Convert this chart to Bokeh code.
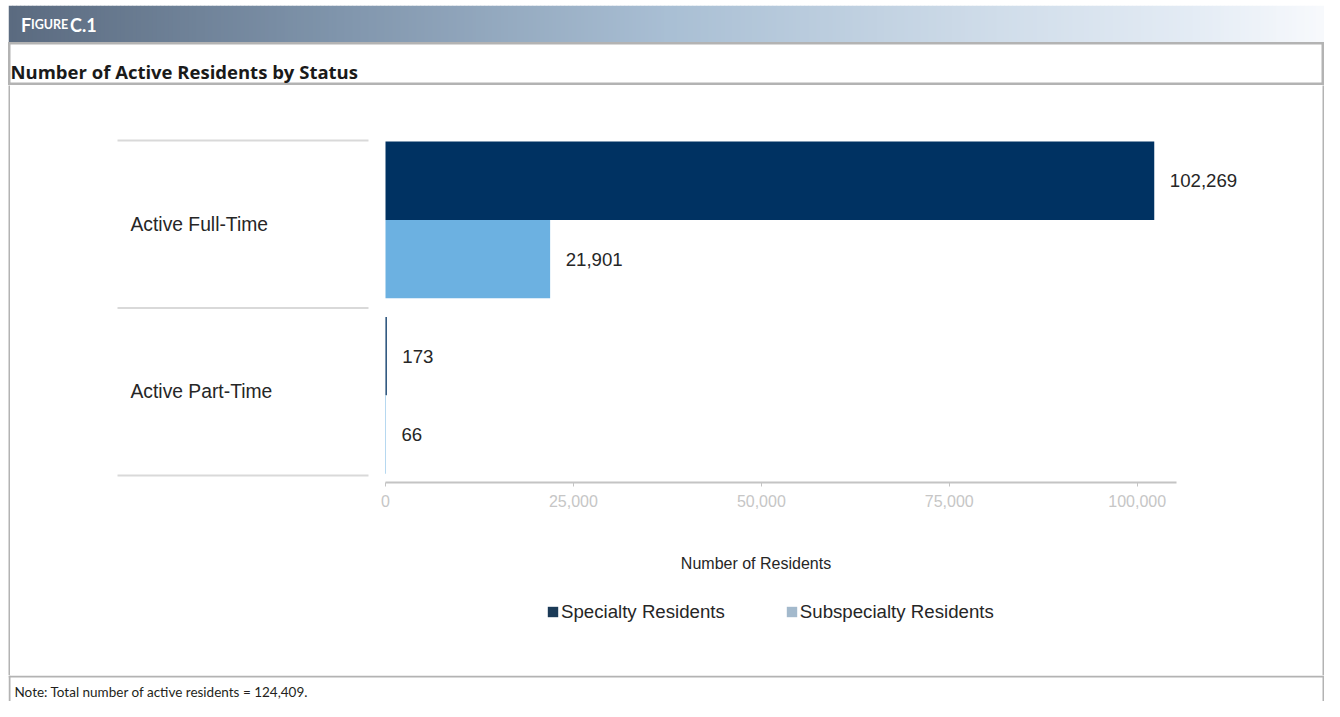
import numpy as np
from bokeh.plotting import figure
from bokeh.layouts import column, row
from bokeh.models import (ColumnDataSource, FactorRange, Range1d, FixedTicker,
                          NumeralTickFormatter, Legend, LegendItem, Spacer)
from bokeh.core.properties import value
from bokeh.embed import file_html
from bokeh.resources import INLINE

# ---------------- data ----------------
statuses = ["Active Full-Time", "Active Part-Time"]
specialty = [102269, 173]
subspecialty = [21901, 66]
series_names = ["Specialty Residents", "Subspecialty Residents"]
x_ticks = [0, 25000, 50000, 75000, 100000]
total_residents = 124409
figure_label = ["F", "IGURE", "C.1"]
title_text = "Number of Active Residents by Status"
x_title = "Number of Residents"
note_text = f"Note: Total number of active residents = {total_residents:,}."

# ---------------- style ----------------
W = 1316
CHART_FONT = "Liberation Sans"
HEAD_FONT = "Lato"
TITLE_FONT = "Open Sans"
BORDER = "#b3b3b3"
TEXT = "#262626"
SPEC_COLOR = "#003262"
SUB_COLOR = "#6cb1e1"
LEG_COLORS = ["#1b3a57", "#a3b9cc"]
GROUP_SHIFT = [0.026, -0.0215]   # small vertical nudge of each bar group (category units)


def blank(w, h, **kw):
    f = figure(width=w, height=h, x_range=Range1d(0, w), y_range=Range1d(h, 0),
               x_axis_location=None, y_axis_location=None, toolbar_location=None,
               output_backend="svg", min_border=0, outline_line_color=None, **kw)
    f.grid.visible = False
    return f


# ---------------- header band ----------------
hdr = blank(W, 37)
stops_x = [0.0, 0.25, 0.5, 0.75, 0.9, 1.0]
stops_c = ["#5b6b80", "#8095ac", "#a9bfd4", "#d0ddea", "#e4ecf5", "#f8fafd"]
n = 329
edges = np.linspace(0, W, n + 1)
mid = (edges[:-1] + edges[1:]) / 2 / W
chan = [np.interp(mid, stops_x, [int(c[i:i + 2], 16) for c in stops_c]) for i in (1, 3, 5)]
cols = ["#%02x%02x%02x" % (int(r), int(g), int(b)) for r, g, b in zip(*chan)]
hdr.quad(left=edges[:-1], right=edges[1:] + 0.6, top=0, bottom=37, fill_color=cols, line_color=None)
hdr.text(x=[12.5, 22.5, 61.5], y=19, text=figure_label, text_baseline="middle",
         text_font=value(HEAD_FONT), text_font_style="bold", text_color="white",
         text_font_size=["18px", "12.5px", "18px"])

# ---------------- title ----------------
title_f = blank(W, 43)
title_f.outline_line_color = BORDER
title_f.outline_line_width = 4
title_f.text(x=[2], y=[28.5], text=[title_text], text_baseline="middle",
             text_font=value(TITLE_FONT), text_font_style="bold", text_color="#1a1a1a",
             text_font_size=value("18.5px"))

# ---------------- chart (bars + axis) ----------------
CW = 1312
UNIT_PX = 167.35
PX_PER_VALUE = 0.007517
ZERO_PX = 375
AXIS_END_PX = 790.7
factors = list(reversed(statuses))
y_range = FactorRange(factors=factors, range_padding=7 / UNIT_PX, range_padding_units="absolute")
x_range = Range1d(-ZERO_PX / PX_PER_VALUE, (CW - ZERO_PX) / PX_PER_VALUE)

p = figure(width=CW, height=440, x_range=x_range, y_range=y_range, y_axis_location=None,
           toolbar_location=None, output_backend="svg", min_border_left=0, min_border_right=0,
           min_border_top=48, min_border_bottom=43, outline_line_color=None)
p.extra_x_ranges = {"px": Range1d(0, CW)}
p.grid.visible = False

BAR_H = 0.468
src = ColumnDataSource(dict(
    status=statuses, specialty=specialty, subspecialty=subspecialty,
    spec_txt=[f"{v:,}" for v in specialty], sub_txt=[f"{v:,}" for v in subspecialty],
    spec_y=[(s, BAR_H / 2 + d) for s, d in zip(statuses, GROUP_SHIFT)],
    sub_y=[(s, -BAR_H / 2 + d) for s, d in zip(statuses, GROUP_SHIFT)]))

p.hbar(y="spec_y", left=0, right="specialty", height=BAR_H, source=src,
       fill_color=SPEC_COLOR, line_color=None)
p.hbar(y="sub_y", left=0, right="subspecialty", height=BAR_H, source=src,
       fill_color=SUB_COLOR, line_color=None)

lbl = dict(text_baseline="middle", text_align="left", text_font=value(CHART_FONT),
           text_font_size=value("18.67px"), text_color=TEXT, x_offset=15.5, source=src)
p.text(x="specialty", y="spec_y", text="spec_txt", **lbl)
p.text(x="subspecialty", y="sub_y", text="sub_txt", **lbl)

# category labels and separators (left block)
p.text(x=120, y="status", text="status", source=src, x_range_name="px",
       text_baseline="middle", text_align="left", text_font=value(CHART_FONT),
       text_font_size=value("19.3px"), text_color=TEXT)
bounds = [(statuses[0], 0.5)] + [(s, -0.5) for s in statuses]
p.segment(x0=107, x1=358, y0=bounds, y1=bounds, x_range_name="px",
          line_color="#d9d9d9", line_width=2)

ax = p.xaxis[0]
ax.ticker = FixedTicker(ticks=x_ticks)
ax.formatter = NumeralTickFormatter(format="0,0")
ax.bounds = (0, AXIS_END_PX / PX_PER_VALUE)
ax.axis_line_color = "#c4c4c4"
ax.axis_line_width = 2
ax.major_tick_line_color = "#c4c4c4"
ax.major_tick_in = 0
ax.major_tick_out = 4
ax.minor_tick_line_color = None
ax.major_label_standoff = 8
ax.major_label_text_font = CHART_FONT
ax.major_label_text_font_size = "16px"
ax.major_label_text_color = "#c6c6c6"

# ---------------- chart bottom (axis title + legend) ----------------
bot = blank(CW, 150)
bot.text(x=[745.5], y=[38], text=[x_title], text_align="center", text_baseline="middle",
         text_font=value(CHART_FONT), text_font_size=value("16px"), text_color=TEXT)
# zero-size swatch renderers that only feed the legend
d1 = bot.hbar(y=[0], left=[0], right=[0], height=0, fill_color=LEG_COLORS[0], line_color=None)
d2 = bot.hbar(y=[0], left=[0], right=[0], height=0, fill_color=LEG_COLORS[1], line_color=None)
legend = Legend(items=[LegendItem(label=series_names[0], renderers=[d1]),
                       LegendItem(label=series_names[1], renderers=[d2])],
                location=(536, 52.5), orientation="horizontal", padding=0, margin=0,
                spacing=60, label_standoff=2, glyph_width=13, glyph_height=13,
                label_height=21, border_line_color=None, background_fill_alpha=0,
                label_text_font=CHART_FONT, label_text_font_size="18.67px",
                label_text_color=TEXT, label_text_baseline="middle")
bot.add_layout(legend)


def border_fig(w, h):
    f = figure(width=w, height=h, x_axis_location=None, y_axis_location=None,
               toolbar_location=None, output_backend="svg", min_border=0,
               outline_line_color=None, background_fill_color=BORDER, border_fill_color=BORDER)
    f.grid.visible = False
    return f


# ---------------- note ----------------
NH = 26
note_f = blank(W, NH)
note_f.segment(x0=[0, 1, W - 1], x1=[W, 1, W - 1], y0=[1, 0, 0], y1=[1, NH, NH],
               line_color=BORDER, line_width=2)
note_f.text(x=[6], y=[16.5], text=[note_text], text_baseline="middle",
            text_font=value(HEAD_FONT), text_color="#231f20", text_font_size=value("13.5px"))

chart_box = row(border_fig(2, 590), column(p, bot), border_fig(2, 590))
body = column(Spacer(width=W, height=5), hdr, title_f, chart_box, note_f)
layout = row(Spacer(width=8, height=701), body)
open("out.html", "w").write(file_html(layout, INLINE))
